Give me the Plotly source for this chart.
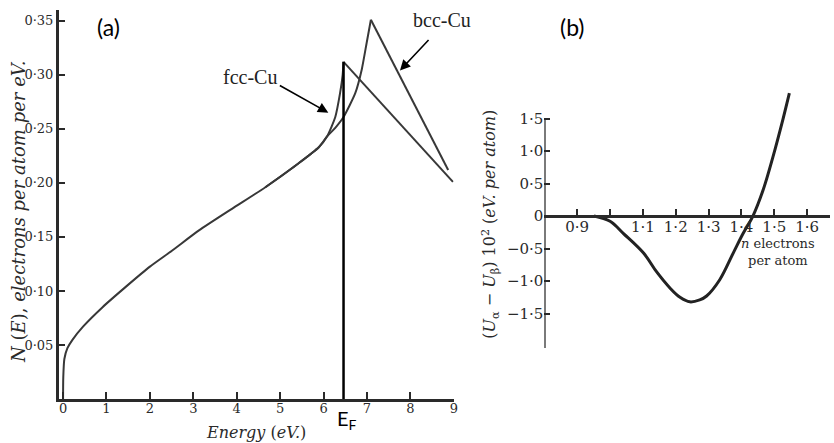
import plotly.graph_objects as go

# ---------------- data ----------------
# (a) density of states N(E), electrons per atom per eV
shared_E = [0.0, 0.005, 0.03, 0.10, 0.22, 0.46, 0.91, 1.45, 2.00, 2.50, 3.13, 3.89, 4.66, 5.42, 5.89, 6.08]
shared_N = [0.0, 0.02, 0.037, 0.047, 0.055, 0.067, 0.085, 0.104, 0.1225, 0.137, 0.156, 0.176, 0.196, 0.218, 0.233, 0.243]

fcc_rise_E = [6.27, 6.38, 6.44, 6.46]
fcc_rise_N = [0.261, 0.283, 0.300, 0.312]
fcc_fall_E = [6.46, 8.98]
fcc_fall_N = [0.312, 0.201]

bcc_rise_E = [6.27, 6.46, 6.73, 6.88, 6.99, 7.09]
bcc_rise_N = [0.251, 0.261, 0.283, 0.305, 0.329, 0.351]
bcc_fall_E = [7.09, 8.87]
bcc_fall_N = [0.351, 0.212]

E_F = 6.46

x_ticks_a = [0, 1, 2, 3, 4, 5, 6, 7, 8, 9]
y_ticks_a = [0.05, 0.10, 0.15, 0.20, 0.25, 0.30, 0.35]
y_ticktext_a = ["0·05", "0·10", "0·15", "0·20", "0·25", "0·30", "0·35"]

# (b) (U_alpha - U_beta) * 10^2 vs n electrons per atom
n_vals = [0.951, 1.00, 1.041, 1.102, 1.142, 1.183, 1.213, 1.243, 1.273, 1.294, 1.334, 1.375, 1.405, 1.435, 1.466, 1.496, 1.526, 1.546]
dU_vals = [0.0, -0.08, -0.27, -0.57, -0.86, -1.11, -1.25, -1.32, -1.29, -1.23, -0.98, -0.57, -0.27, 0.0, 0.40, 0.91, 1.48, 1.89]

x_ticks_b = [0.9, 1.0, 1.1, 1.2, 1.3, 1.4, 1.5, 1.6]
x_ticktext_b = ["0·9", "", "1·1", "1·2", "1·3", "1·4", "1·5", "1·6"]
y_ticks_b = [-1.5, -1.0, -0.5, 0, 0.5, 1.0, 1.5]
y_ticktext_b = ["−1·5", "−1·0", "−0·5", "0", "0·5", "1·0", "1·5"]

# ---------------- layout helpers ----------------
W, H = 834, 443
def pxx(p):
    return p / W
def pxy(p):
    return 1 - p / H

SERIF = "Liberation Serif"
BOOK = "DejaVu Serif"
SANS = "Lato"
INK = "#2a2a2a"
CURVE = "#383838"

xr_a = [-0.1, 9.0]
yr_a = [0.0, 0.36]
xr_b = [0.8, 1.6697]
yr_b = [-2.03, 2.0]
yb_axis_top = 1.5
yb_dom = [pxy(348), pxy(86)]
xb_pos = yb_dom[0] + (0 - yr_b[0]) / (yr_b[1] - yr_b[0]) * (yb_dom[1] - yb_dom[0])

fig = go.Figure()

# shared + fcc
fig.add_trace(go.Scatter(x=shared_E + fcc_rise_E, y=shared_N + fcc_rise_N, mode="lines",
                         line=dict(color=CURVE, width=2, shape="spline", smoothing=0.6),
                         xaxis="x", yaxis="y", showlegend=False, hoverinfo="skip"))
fig.add_trace(go.Scatter(x=fcc_fall_E, y=fcc_fall_N, mode="lines",
                         line=dict(color=CURVE, width=2),
                         xaxis="x", yaxis="y", showlegend=False, hoverinfo="skip"))
# bcc
fig.add_trace(go.Scatter(x=shared_E[-4:] + bcc_rise_E, y=shared_N[-4:] + bcc_rise_N, mode="lines",
                         line=dict(color=CURVE, width=2, shape="spline", smoothing=0.6),
                         xaxis="x", yaxis="y", showlegend=False, hoverinfo="skip"))
fig.add_trace(go.Scatter(x=bcc_fall_E, y=bcc_fall_N, mode="lines",
                         line=dict(color=CURVE, width=2),
                         xaxis="x", yaxis="y", showlegend=False, hoverinfo="skip"))
# Fermi level line
fig.add_trace(go.Scatter(x=[E_F, E_F], y=[0, max(fcc_rise_N)], mode="lines",
                         line=dict(color="black", width=2.5),
                         xaxis="x", yaxis="y", showlegend=False, hoverinfo="skip"))

# panel (b) curve
fig.add_trace(go.Scatter(x=n_vals, y=dU_vals, mode="lines",
                         line=dict(color="#222", width=3, shape="spline", smoothing=1.0),
                         xaxis="x2", yaxis="y2", showlegend=False, hoverinfo="skip"))

fig.update_layout(
    width=W, height=H,
    margin=dict(l=0, r=0, t=0, b=0),
    paper_bgcolor="white", plot_bgcolor="white",
    xaxis=dict(domain=[pxx(59), pxx(456)], range=xr_a, anchor="y",
               tickvals=x_ticks_a, ticks="inside", ticklen=7, tickwidth=1.5, tickcolor=INK,
               showline=True, linecolor=INK, linewidth=2.5, showgrid=False, zeroline=False,
               ticklabelstandoff=-4,
               tickfont=dict(family=BOOK, size=13, color=INK)),
    yaxis=dict(domain=[pxy(399), pxy(10)], range=yr_a, anchor="x",
               tickvals=y_ticks_a, ticktext=y_ticktext_a, ticks="inside", ticklen=7,
               tickwidth=1.5, tickcolor=INK,
               showline=True, linecolor=INK, linewidth=2.5, showgrid=False, zeroline=False,
               tickfont=dict(family=BOOK, size=13, color=INK)),
    xaxis2=dict(domain=[pxx(547), 1.0], range=xr_b, anchor="free", position=xb_pos,
                tickvals=x_ticks_b, ticktext=x_ticktext_b, ticks="inside", ticklen=6,
                tickwidth=1.5, tickcolor=INK,
                showline=True, linecolor=INK, linewidth=2.5, showgrid=False, zeroline=False,
                ticklabelstandoff=-4,
                tickfont=dict(family=BOOK, size=15, color=INK)),
    yaxis2=dict(domain=yb_dom, range=yr_b, anchor="x2",
                tickvals=y_ticks_b, ticktext=y_ticktext_b, ticks="inside", ticklen=6,
                tickwidth=1.5, tickcolor=INK,
                showline=False, showgrid=False, zeroline=False,
                tickfont=dict(family=BOOK, size=15, color=INK)),
    shapes=[dict(type="line", xref="x2", yref="y2", x0=xr_b[0], x1=xr_b[0],
                 y0=yr_b[0], y1=yb_axis_top, line=dict(color=INK, width=2.5))],
)

def label(text, x, y, font, **kw):
    d = dict(text=text, xref="paper", yref="paper", x=pxx(x), y=pxy(y),
             xanchor="center", yanchor="middle", showarrow=False, font=font)
    d.update(kw)
    return d

ann = []
ann.append(label("(a)", 109, 27, dict(family=SANS, size=23, color="black")))
ann.append(label("(b)", 575, 27, dict(family=SANS, size=23, color="black")))
ann.append(label("fcc-Cu", 251, 77, dict(family=SERIF, size=20, color="#222")))
ann.append(label("bcc-Cu", 444, 20, dict(family=SERIF, size=20, color="#222")))
# arrows
ann.append(dict(text="", xref="x", yref="y", x=6.11, y=0.265, ax=-50, ay=-28,
                showarrow=True, arrowhead=2, arrowsize=1.3, arrowwidth=1.6, arrowcolor="black"))
ann.append(dict(text="", xref="x", yref="y", x=7.76, y=0.304, ax=30, ay=-32,
                showarrow=True, arrowhead=2, arrowsize=1.3, arrowwidth=1.6, arrowcolor="black"))
ann.append(label("E<sub>F</sub>", 349, 419, dict(family=SANS, size=20, color="black")))
ann.append(label("<i>N</i> (<i>E</i>), <i>electrons per atom per eV.</i>", 18, 212,
                 dict(family=BOOK, size=18, color=INK), textangle=-90))
ann.append(label("<i>Energy</i> (<i>eV.</i>)", 257, 432, dict(family=BOOK, size=16, color=INK)))
ann.append(label("(<i>U</i><sub>α</sub> − <i>U</i><sub>β</sub>) 10<sup>2</sup> (<i>eV. per atom</i>)",
                 492, 224, dict(family=BOOK, size=16, color=INK), textangle=-90))
ann.append(label("<i>n</i> electrons<br>per atom", 782, 252, dict(family=BOOK, size=13, color=INK),
                 align="center"))

fig.update_layout(annotations=ann)

fig.write_html("out.html", config={"displayModeBar": False},
               post_script="document.body.style.margin='0px';document.body.style.overflow='hidden';")
